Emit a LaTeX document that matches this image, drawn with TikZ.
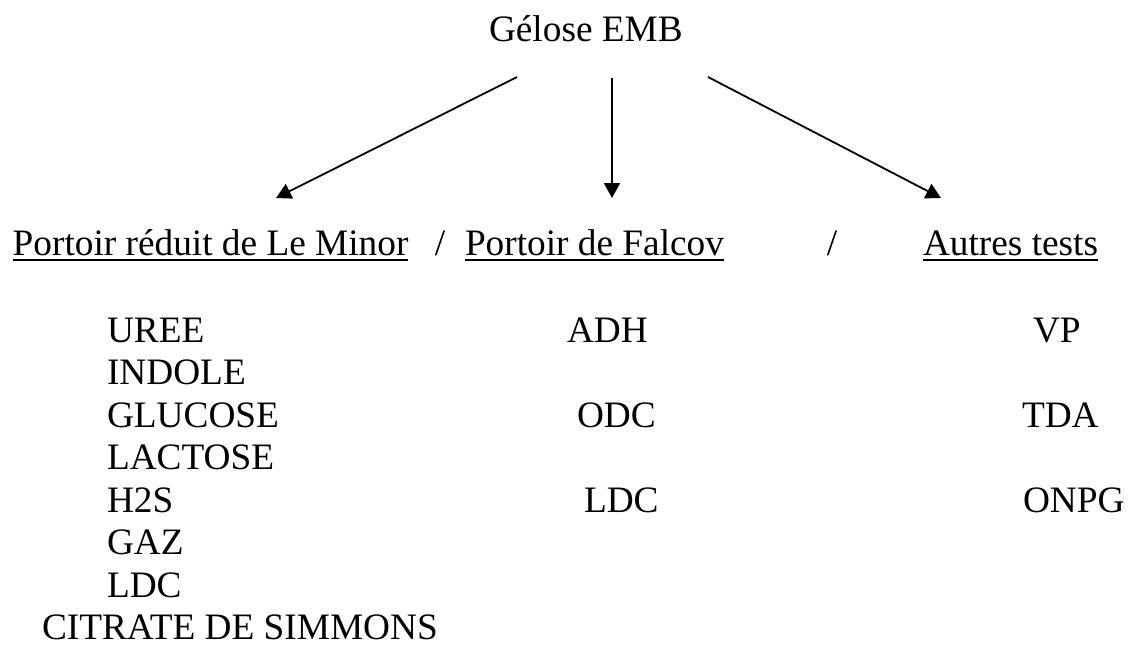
\documentclass[tikz,border=0pt]{standalone}
\usepackage{fontspec}
\setmainfont{Liberation Serif}
\usetikzlibrary{arrows.meta}

\begin{document}
\begin{tikzpicture}[x=1pt, y=-1pt,
  txt/.style={anchor=base west, inner sep=0pt, outer sep=0pt,
              font=\fontsize{37.3}{42.6}\selectfont},
  sep/.style={anchor=base, inner sep=0pt, outer sep=0pt,
              font=\fontsize{37.3}{42.6}\selectfont},
  uline/.style={line width=2.2pt},
  branch/.style={line width=1.8pt, -{Triangle[length=15pt, width=16pt]}}]
  \useasboundingbox (0,0) rectangle (1130,646);

  % root
  \node[txt] (root) at (489,41) {Gélose EMB};

  % column headings
  \node[txt] (h1) at (12.7,255) {Portoir réduit de Le Minor};
  \node[sep] (s1) at (440,255) {/};
  \node[txt] (h2) at (465,255) {Portoir de Falcov};
  \node[sep] (s2) at (832,255) {/};
  \node[txt] (h3) at (923,255) {Autres tests};

  \foreach \h in {h1,h2,h3}
    \draw[uline] ([yshift=-5pt]\h.base west) -- ([yshift=-5pt]\h.base east);

  % branch end points
  \coordinate (r1) at (517,77);
  \coordinate (r2) at (612,78);
  \coordinate (r3) at (708,77);
  \coordinate (t1) at (276,198);
  \coordinate (t2) at (612,198);
  \coordinate (t3) at (941,198);
  \draw[branch] (r1) -- (t1);
  \draw[branch] (r2) -- (t2);
  \draw[branch] (r3) -- (t3);

  % Le Minor tests
  \node[txt] (a1) at (107,342) {UREE};
  \node[txt] (a2) at (107,384.5) {INDOLE};
  \node[txt] (a3) at (107,427) {GLUCOSE};
  \node[txt] (a4) at (107,469.5) {LACTOSE};
  \node[txt] (a5) at (107,512) {H2S};
  \node[txt] (a6) at (107,554.5) {GAZ};
  \node[txt] (a7) at (107,597) {LDC};
  \node[txt] (a8) at (42,639.5) {CITRATE DE SIMMONS};

  % Falcov tests
  \node[txt] (b1) at (567,342) {ADH};
  \node[txt] (b2) at (577,427) {ODC};
  \node[txt] (b3) at (584,512) {LDC};

  % other tests
  \node[txt] (c1) at (1033,342) {VP};
  \node[txt] (c2) at (1022,427) {TDA};
  \node[txt] (c3) at (1023,512) {ONPG};
\end{tikzpicture}
\end{document}
